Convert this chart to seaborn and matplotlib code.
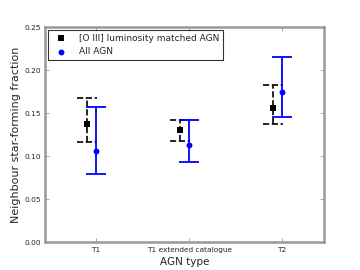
import numpy as np
import pandas as pd
import matplotlib
matplotlib.use('Agg')
import matplotlib.pyplot as plt
import seaborn as sns

categories = ['T1', 'T1 extended catalogue', 'T2']

# [O III] luminosity matched AGN
matched_frac = [0.138, 0.130, 0.156]
matched_low = [0.117, 0.118, 0.138]
matched_high = [0.168, 0.142, 0.183]

# All AGN
all_frac = [0.106, 0.113, 0.174]
all_low = [0.080, 0.093, 0.145]
all_high = [0.157, 0.142, 0.215]

OFFSET = 0.1
CAP = 0.11

x = np.arange(len(categories))
df_matched = pd.DataFrame({'x': x - OFFSET, 'frac': matched_frac, 'low': matched_low, 'high': matched_high})
df_all = pd.DataFrame({'x': x, 'frac': all_frac, 'low': all_low, 'high': all_high})

sns.set_style('white')
plt.rcParams['font.family'] = ['DejaVu Sans']

f, ax = plt.subplots(figsize=(3.6, 2.7), dpi=100)
f.subplots_adjust(left=0.125, right=0.9, bottom=0.102, top=0.9)

# error bars: matched (dashed black)
ax.vlines(df_matched['x'], df_matched['low'], df_matched['high'], colors='k', linestyles='--', lw=1.2, zorder=2)
ax.hlines(df_matched['low'], df_matched['x'] - CAP, df_matched['x'] + CAP, colors='k', linestyles='--', lw=1.2, zorder=2)
ax.hlines(df_matched['high'], df_matched['x'] - CAP, df_matched['x'] + CAP, colors='k', linestyles='--', lw=1.2, zorder=2)
# error bars: all (solid blue)
ax.vlines(df_all['x'], df_all['low'], df_all['high'], colors='b', lw=1.3, zorder=2)
ax.hlines(df_all['low'], df_all['x'] - CAP, df_all['x'] + CAP, colors='b', lw=1.3, zorder=2)
ax.hlines(df_all['high'], df_all['x'] - CAP, df_all['x'] + CAP, colors='b', lw=1.3, zorder=2)

sns.scatterplot(data=df_matched, x='x', y='frac', marker='s', color='k', s=18, linewidth=0,
                label='[O III] luminosity matched AGN', ax=ax, zorder=3)
sns.scatterplot(data=df_all, x='x', y='frac', marker='o', color='b', s=18, linewidth=0,
                label='All AGN', ax=ax, zorder=3)

ax.set_xlim(-0.55, 2.45)
ax.set_ylim(0, 0.25)
ax.set_xticks(x)
ax.set_xticklabels(categories)
ax.set_yticks([0, 0.05, 0.10, 0.15, 0.20, 0.25])
ax.set_yticklabels(['0.00', '0.05', '0.10', '0.15', '0.20', '0.25'])
ax.tick_params(direction='in', length=3, width=0.6, color='#999999', labelsize=5.3,
               top=True, right=True, bottom=True, left=True, pad=3)
for sp in ax.spines.values():
    sp.set_color('#999999')
    sp.set_linewidth(1.8)

ax.set_xlabel('AGN type', fontsize=7.5, labelpad=3)
ax.set_ylabel('Neighbour star-forming fraction', fontsize=8, labelpad=2)

leg = ax.legend(loc='upper left', fontsize=6.5, frameon=True, fancybox=False, handletextpad=1.0,
                handlelength=2.0, labelspacing=0.5, borderaxespad=0.3, borderpad=0.45)
leg.get_frame().set_edgecolor('k')
leg.get_frame().set_linewidth(0.8)

plt.savefig('out.png', dpi=100)
